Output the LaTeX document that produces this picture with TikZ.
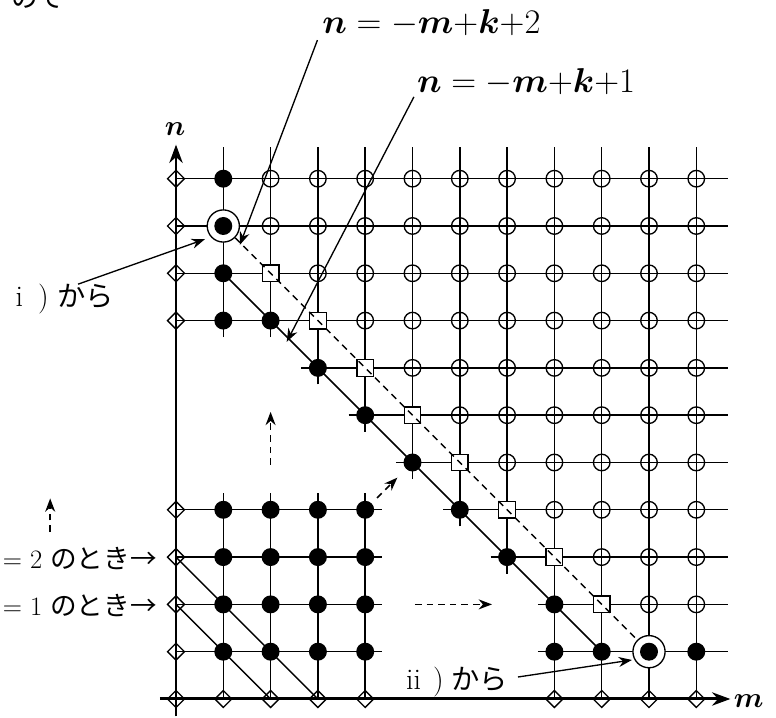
\documentclass[tikz,border=0pt]{standalone}
\usepackage{fontspec}
\usepackage{amsmath,bm}
\newfontfamily\jp{Noto Sans CJK JP}
\usetikzlibrary{arrows.meta,shapes.geometric,backgrounds}
\begin{document}
\begin{tikzpicture}[x=1cm,y=1cm,
  gridline/.style={line width=0.85pt},
  axisline/.style={line width=1.8pt,-{Stealth[length=11pt,width=8pt]}},
  diam/.style={draw,diamond,minimum width=0.37cm,minimum height=0.37cm,inner sep=0pt,line width=0.8pt},
  opn/.style={draw,circle,minimum size=0.35cm,inner sep=0pt,line width=0.8pt},
  sqr/.style={draw,fill=white,rectangle,minimum size=0.35cm,inner sep=0pt,line width=0.8pt},
  fdot/.style={fill,circle,minimum size=0.38cm,inner sep=0pt},
  ringnode/.style={draw,fill=white,circle,minimum size=0.68cm,inner sep=0pt,line width=0.8pt},
  dline/.style={line width=0.8pt,dash pattern=on 4pt off 3pt},
  darrow/.style={line width=1pt,dash pattern=on 4pt off 3pt,-{Stealth[length=8pt,width=6pt]}},
  larrow/.style={line width=0.8pt,-{Stealth[length=8pt,width=6pt]}},
  mathlab/.style={inner sep=0pt,font=\fontsize{20}{24}\selectfont},
  axlab/.style={inner sep=0pt,font=\fontsize{18}{22}\selectfont},
  jplab/.style={inner sep=0pt,font=\fontsize{16}{19}\selectfont},
  jpbig/.style={inner sep=0pt,font=\fontsize{18}{21}\selectfont}
]
\useasboundingbox (-3.721,-0.381) rectangle (12.685,14.778);

% ---------- markers ----------
\foreach \m/\n in {0/0,0/1,0/2,0/3,0/4,1/0,2/0,3/0,4/0,0/8,0/9,0/10,0/11,8/0,9/0,10/0,11/0}
  \node[diam] (d-\m-\n) at (\m,\n) {};
\foreach \n in {2,...,11}
  \foreach \m in {2,...,11}{
    \pgfmathtruncatemacro\s{\m+\n}
    \ifnum\s>11 \node[opn] (o-\m-\n) at (\m,\n) {};\fi
  }
\foreach \m in {2,...,9}{
  \pgfmathtruncatemacro\n{11-\m}
  \node[sqr] (s-\m-\n) at (\m,\n) {};
}
\node[ringnode] (r-1-10) at (1,10) {};
\node[ringnode] (r-10-1) at (10,1) {};
\foreach \m in {1,...,9}{
  \pgfmathtruncatemacro\n{10-\m}
  \node[fdot] (f-\m-\n) at (\m,\n) {};
}
\foreach \m in {1,...,4}
  \foreach \n in {1,...,4}
    \node[fdot] (b-\m-\n) at (\m,\n) {};
\foreach \m/\n in {1/8,8/1,1/11,11/1,1/10,10/1}
  \node[fdot] (f-\m-\n) at (\m,\n) {};

% dashed diagonal n=-m+k+2
\draw[dline] (r-1-10) -- (r-10-1);

% ---------- background: grid, diagonals, axes ----------
\begin{pgfonlayer}{background}
  \foreach \n in {8,...,11} \draw[gridline] (0,\n) -- (11.67,\n);
  \draw[gridline] (2.65,7) -- (11.67,7);
  \draw[gridline] (3.65,6) -- (11.67,6);
  \draw[gridline] (4.65,5) -- (11.67,5);
  \draw[gridline] (5.65,4) -- (11.67,4);
  \draw[gridline] (6.65,3) -- (11.67,3);
  \draw[gridline] (7.65,2) -- (11.67,2);
  \draw[gridline] (7.65,1) -- (11.67,1);
  \foreach \n in {1,...,4} \draw[gridline] (0,\n) -- (4.35,\n);
  \foreach \m in {1,...,4} \draw[gridline] (\m,0) -- (\m,4.35);
  \draw[gridline] (1,7.65) -- (1,11.67);
  \draw[gridline] (2,7.65) -- (2,11.67);
  \draw[gridline] (3,6.65) -- (3,11.67);
  \draw[gridline] (4,5.65) -- (4,11.67);
  \draw[gridline] (5,4.65) -- (5,11.67);
  \draw[gridline] (6,3.65) -- (6,11.67);
  \draw[gridline] (7,2.65) -- (7,11.67);
  \foreach \m in {8,...,11} \draw[gridline] (\m,0) -- (\m,11.67);
  % solid diagonal n=-m+k+1
  \draw[line width=0.9pt] (f-1-9.center) -- (f-9-1.center);
  % k=1, k=2 diagonals
  \draw[line width=0.8pt] (d-0-3.center) -- (d-3-0.center);
  \draw[line width=0.8pt] (d-0-2.center) -- (d-2-0.center);
  % axes
  \coordinate (ybot) at (0,-0.37);
  \coordinate (ytop) at (0,11.72);
  \coordinate (xlft) at (-0.34,0);
  \coordinate (xrgt) at (11.72,0);
  \draw[axisline] (ybot) -- (ytop);
  \draw[axisline] (xlft) -- (xrgt);
\end{pgfonlayer}

% ---------- axis labels ----------
\node[axlab] (nlab) at (-0.02,12.04) {$\bm{n}$};
\node[axlab] (mlab) at (12.11,-0.04) {$\bm{m}$};

% ---------- line labels ----------
\node[mathlab,anchor=base west] (L2) at (3.09,14.08) {$\bm{n} = {-}\bm{m}{+}\bm{k}{+}2$};
\node[mathlab,anchor=base west] (L1) at (5.09,12.83) {$\bm{n} = {-}\bm{m}{+}\bm{k}{+}1$};
\coordinate (t2) at (2.99,13.93);
\coordinate (h2) at (1.35,9.60);
\coordinate (t1) at (5.03,12.73);
\coordinate (h1) at (2.34,7.55);
\draw[larrow] (t2) -- (h2);
\draw[larrow] (t1) -- (h1);

% ---------- i) ii) ----------
\node[jpbig,anchor=east] (lab1) at (-1.30,8.45) {i\hspace{0.5em})\hspace{0.3em}{\jp\fontsize{17}{20}\selectfont から}};
\coordinate (t3) at (-2.07,8.77);
\coordinate (h3) at (0.61,9.72);
\draw[larrow] (t3) -- (h3);
\node[jpbig,anchor=east] (lab2) at (7.02,0.36) {ii\hspace{0.4em})\hspace{0.25em}{\jp\fontsize{17}{20}\selectfont から}};
\coordinate (t4) at (7.23,0.465);
\coordinate (h4) at (9.64,0.825);
\draw[larrow] (t4) -- (h4);

% ---------- k = 1, 2 ----------
\node[jplab,anchor=east] (k2) at (-0.40,2.98) {= 2 {\jp のとき→}};
\node[jplab,anchor=east] (k1) at (-0.40,1.98) {= 1 {\jp のとき→}};
\node[jplab,anchor=east] (top) at (-2.35,14.82) {{\jp ので}};

% ---------- dashed arrows ----------
\coordinate (a1) at (2,4.95);   \coordinate (a2) at (2,6.07);
\coordinate (b1) at (4.25,4.25); \coordinate (b2) at (4.68,4.68);
\coordinate (c1) at (5.05,2);   \coordinate (c2) at (6.68,2);
\coordinate (e1) at (-2.66,3.53); \coordinate (e2) at (-2.66,4.24);
\draw[darrow] (a1) -- (a2);
\draw[darrow] (b1) -- (b2);
\draw[darrow] (c1) -- (c2);
\draw[darrow] (e1) -- (e2);
\end{tikzpicture}
\end{document}
